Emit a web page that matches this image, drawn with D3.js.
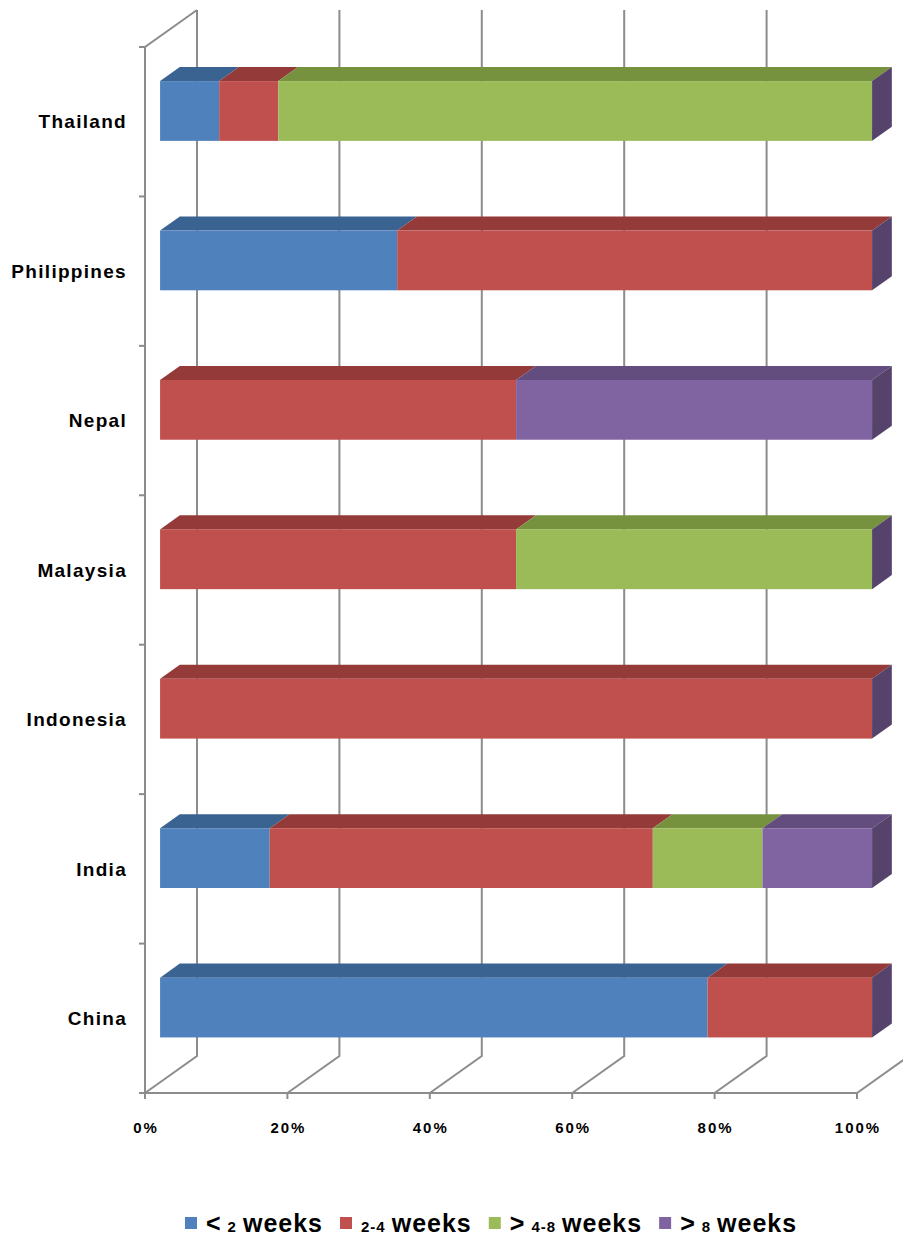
<!DOCTYPE html>
<html>
<head>
<meta charset="utf-8">
<script src="https://cdn.jsdelivr.net/npm/d3@7"></script>
<style>
  html, body { margin: 0; padding: 0; background: #fff; }
  svg { display: block; font-family: "Liberation Sans", Arial, sans-serif; }
</style>
</head>
<body>
<svg id="chart" width="903" height="1239"></svg>
<script>
// Categories, top to bottom
const countries = ["Thailand", "Philippines", "Nepal", "Malaysia", "Indonesia", "India", "China"];
// Share of respondents (%) for each duration class
const lessThan2 = [8.3, 33.3, 0, 0, 0, 15.4, 76.9];
const from2to4  = [8.3, 66.7, 50, 50, 100, 53.8, 23.1];
const from4to8  = [83.4, 0, 0, 50, 0, 15.4, 0];
const over8     = [0, 0, 50, 0, 0, 15.4, 0];
const seriesNames = ["< 2 weeks", "2-4 weeks", "> 4-8 weeks", "> 8 weeks"];
const tickValues = [0, 20, 40, 60, 80, 100];

const seriesValues = [lessThan2, from2to4, from4to8, over8];
const fronts = ["#4F81BD", "#C0504D", "#9BBB59", "#8064A2"];
const tops   = ["#3B6391", "#943B39", "#77923F", "#624D7E"];
const sideColor = "#55436B";

const svg = d3.select("#chart");

// 3D frame: floor front edge, wall depth offsets
const floorLeft = 145, floorRight = 857;
const wallTop = 47, floorY = 1093;
const depthDX = 52, depthDY = -37;

const x = d3.scaleLinear().domain([0, 100]).range([0, floorRight - floorLeft]);
const y = d3.scaleBand().domain(countries).range([wallTop, floorY])
  .paddingInner(0.6).paddingOuter(0.3);

// project (percent, front y, depth 0..1) to screen
const P = (v, yy, d) => [floorLeft + x(v) + depthDX * d, yy + depthDY * d];

const grid = svg.append("g").attr("stroke", "#8C8C8C").attr("stroke-width", 2).attr("fill", "none");

// back wall gridlines and their floor diagonals
tickValues.forEach(t => {
  const top = P(t, wallTop, 1), bot = P(t, floorY, 1), front = P(t, floorY, 0);
  grid.append("path").attr("d", d3.line()([top, bot, front]));
});
// left wall front edge and top edge
grid.append("path").attr("d", d3.line()([P(0, wallTop, 1), P(0, wallTop, 0), P(0, floorY, 0)]));
// floor front edge
grid.append("path").attr("d", d3.line()([P(0, floorY, 0), P(100, floorY, 0)]));
// tick marks on floor
tickValues.forEach(t => {
  const p = P(t, floorY, 0);
  grid.append("line").attr("x1", p[0]).attr("x2", p[0]).attr("y1", p[1]).attr("y2", p[1] + 6);
});
// category ticks on left wall
const borders = countries.map(c => y(c) - y.step() * y.paddingInner() / 2).concat([floorY]);
borders.forEach(b => {
  grid.append("line").attr("x1", floorLeft - 6).attr("x2", floorLeft).attr("y1", b).attr("y2", b);
});

// bars
const barFront = 0.29, barBack = 0.67;
const bars = svg.append("g");
countries.forEach((c, i) => {
  const yTop = y(c), yBot = y(c) + y.bandwidth();
  let acc = 0;
  const segs = seriesValues.map((s, k) => {
    const seg = { k, v0: acc, v1: acc + s[i] };
    acc += s[i];
    return seg;
  }).filter(s => s.v1 > s.v0);
  const g = bars.append("g");
  segs.forEach(s => {
    const a = P(s.v0, yTop, barFront), b = P(s.v1, yTop, barFront);
    const a2 = P(s.v0, yTop, barBack), b2 = P(s.v1, yTop, barBack);
    // top face
    g.append("path").attr("d", d3.line()([a, b, b2, a2]) + "Z").attr("fill", tops[s.k]);
    // front face
    const bl = P(s.v0, yBot, barFront);
    g.append("rect").attr("x", a[0]).attr("y", a[1])
      .attr("width", b[0] - a[0]).attr("height", bl[1] - a[1]).attr("fill", fronts[s.k]);
  });
  // right end face
  const e1 = P(100, yTop, barFront), e2 = P(100, yTop, barBack);
  const e3 = P(100, yBot, barBack), e4 = P(100, yBot, barFront);
  g.append("path").attr("d", d3.line()([e1, e2, e3, e4]) + "Z").attr("fill", sideColor);
});

// category labels
svg.append("g").selectAll("text").data(countries).join("text")
  .attr("x", 127).attr("y", c => y(c) + y.bandwidth() / 2)
  .attr("dy", "0.35em").attr("text-anchor", "end")
  .attr("font-size", 19).attr("font-weight", "bold").attr("letter-spacing", 1.3)
  .attr("fill", "#000").text(c => c);

// percent axis labels
svg.append("g").selectAll("text").data(tickValues).join("text")
  .attr("x", t => P(t, floorY, 0)[0] + 1).attr("y", 1133)
  .attr("text-anchor", "middle").attr("font-size", 15).attr("font-weight", "bold")
  .attr("letter-spacing", 2).attr("fill", "#000")
  .text(t => t + "%");

// legend: symbols and words large, digit runs small
const legend = svg.append("g");
let lx = 185;
const base = 1232;
seriesNames.forEach((name, k) => {
  legend.append("rect").attr("x", lx).attr("y", 1217).attr("width", 12).attr("height", 12)
    .attr("fill", fronts[k]);
  lx += 21;
  const parts = name.split(/\s+/);
  parts.forEach((p, j) => {
    const small = /^[0-9\-]+$/.test(p);
    const t = legend.append("text").attr("x", lx).attr("y", base)
      .attr("font-weight", "bold").attr("fill", "#000")
      .attr("font-size", small ? 15 : 25)
      .attr("letter-spacing", small ? 1 : 1)
      .text(p);
    lx += t.node().getComputedTextLength() + (j < parts.length - 1 ? 6 : 17);
  });
});
</script>
</body>
</html>
